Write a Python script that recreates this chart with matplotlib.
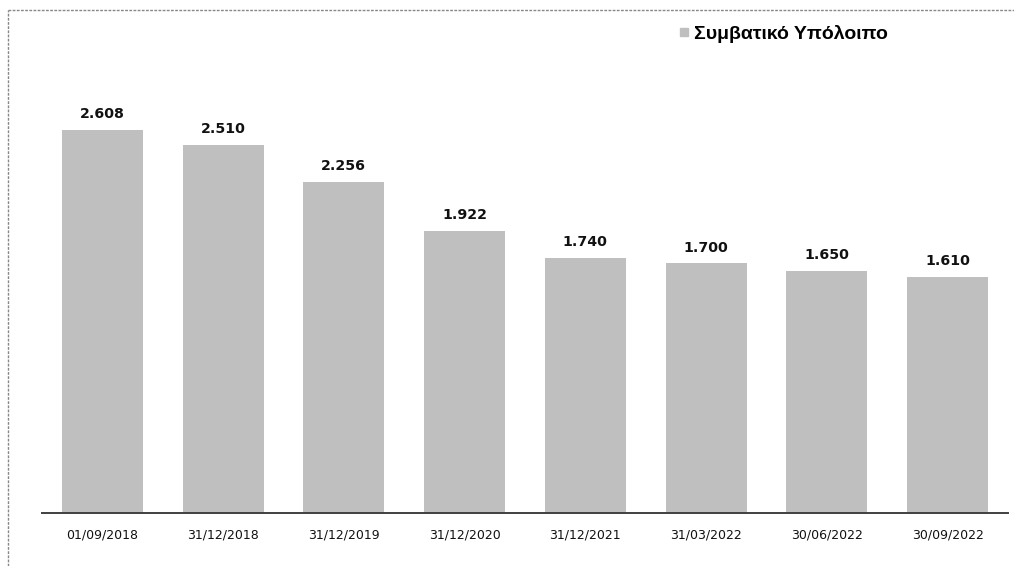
import matplotlib
matplotlib.use("Agg")
import matplotlib.pyplot as plt
from matplotlib.lines import Line2D

categories = ["01/09/2018", "31/12/2018", "31/12/2019", "31/12/2020",
              "31/12/2021", "31/03/2022", "30/06/2022", "30/09/2022"]
values = [2.608, 2.510, 2.256, 1.922, 1.740, 1.700, 1.650, 1.610]
series_name = "Συμβατικό Υπόλοιπο"

W, H = 1014, 566
fig = plt.figure(figsize=(W / 100, H / 100), dpi=100)
ax = fig.add_axes([42 / W, (H - 513) / H, (1008 - 42) / W, (513 - 20) / H])

x = range(len(categories))
bars = ax.bar(x, values, width=0.67, color="#bfbfbf", label=series_name)
ax.set_xlim(-0.5, len(categories) - 0.5)
ax.set_ylim(0, 493 / 146.8)

for xi, v in zip(x, values):
    ax.text(xi, v + 0.06, f"{v:.3f}", ha="center", va="bottom",
            fontsize=10.2, fontweight="bold", color="#111111", family="DejaVu Sans")

ax.set_xticks(list(x))
ax.set_xticklabels(categories, fontsize=9, color="#111111", family="DejaVu Sans")
ax.tick_params(axis="x", length=0, pad=11)
ax.set_yticks([])
for s in ["top", "right", "left"]:
    ax.spines[s].set_visible(False)
ax.spines["bottom"].set_color("#404040")
ax.spines["bottom"].set_linewidth(1.4)

handle = Line2D([], [], marker="s", linestyle="none", markersize=6,
                markerfacecolor="#bfbfbf", markeredgecolor="#bfbfbf")
fig.legend([handle], [series_name], loc="center left",
           bbox_to_anchor=(665 / W, 1 - 34 / H), frameon=False,
           borderpad=0, handletextpad=0.0, handlelength=1.0,
           prop={"family": "Liberation Sans", "weight": "bold", "size": 14})

# dashed frame (top and left)
fig.add_artist(Line2D([8 / W, 1.0], [1 - 10 / H, 1 - 10 / H], transform=fig.transFigure,
                      color="#888888", linestyle=(0, (2, 1)), linewidth=1))
fig.add_artist(Line2D([8 / W, 8 / W], [0, 1 - 10 / H], transform=fig.transFigure,
                      color="#888888", linestyle=(0, (2, 1)), linewidth=1))

fig.savefig("out.png", dpi=100)
